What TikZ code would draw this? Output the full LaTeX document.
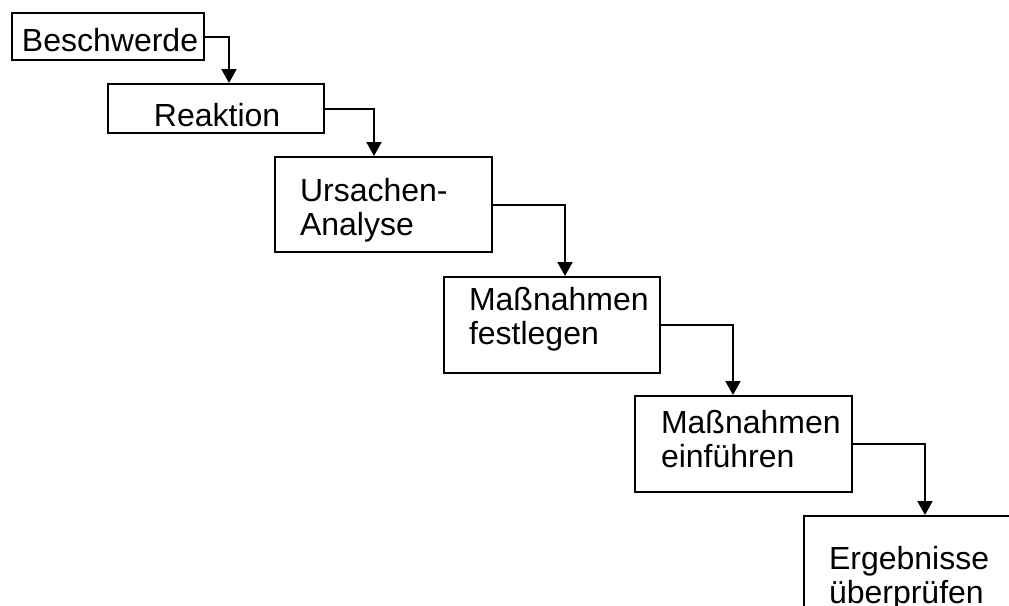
\documentclass[tikz,border=0pt]{standalone}
\usepackage{fontspec}
\setmainfont{Liberation Sans}
\usetikzlibrary{arrows.meta}

\begin{document}
\begin{tikzpicture}[x=0.5pt,y=-0.5pt,
    stage/.style={draw,line width=1pt,anchor=north west,align=left,
      inner ysep=0pt,font=\fontsize{16}{17}\selectfont},
    flow/.style={line width=1pt,-{Triangle[width=7.5pt,length=7pt]}}]

    \useasboundingbox (0,0) rectangle (1009,606);
    \clip (0,0) rectangle (1009,606);

    \node[stage,inner xsep=5pt,text width=86pt,text height=19pt,text depth=4.5pt]
      (beschwerde) at (11,12) {Beschwerde};
    \node[stage,inner xsep=23pt,text width=62pt,text height=21pt,text depth=3.5pt]
      (reaktion) at (107,83) {Reaktion};
    \node[stage,inner xsep=12.5pt,text width=83.5pt,text height=22pt,text depth=25.5pt]
      (ursachen) at (274,156) {Ursachen-\\Analyse};
    \node[stage,inner xsep=12.5pt,text width=83pt,text height=16.5pt,text depth=31.5pt]
      (festlegen) at (443,276) {Maßnahmen\\festlegen};
    \node[stage,inner xsep=13pt,text width=82.5pt,text height=18.5pt,text depth=29.5pt]
      (einfuehren) at (634,395) {Maßnahmen\\einführen};
    \node[stage,inner xsep=12.5pt,text width=85pt,text height=26.5pt,text depth=37pt]
      (pruefen) at (803,515) {Ergebnisse\\überprüfen};

    \draw[flow] (beschwerde.east) -- ++(24,0) coordinate (k1) -- (k1 |- reaktion.north);
    \draw[flow] (reaktion.east) -- ++(49,0) coordinate (k2) -- (k2 |- ursachen.north);
    \draw[flow] (ursachen.east) -- ++(72,0) coordinate (k3) -- (k3 |- festlegen.north);
    \draw[flow] (festlegen.east) -- ++(72,0) coordinate (k4) -- (k4 |- einfuehren.north);
    \draw[flow] (einfuehren.east) -- ++(72,0) coordinate (k5) -- (k5 |- pruefen.north);
\end{tikzpicture}
\end{document}
